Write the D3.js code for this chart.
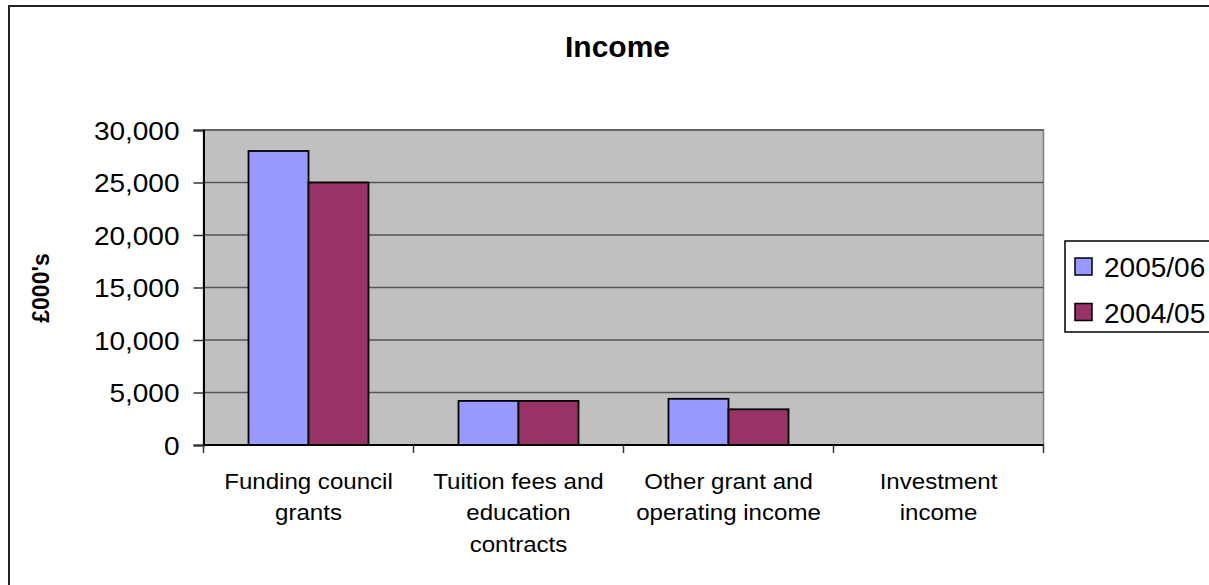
<!DOCTYPE html>
<html>
<head>
<meta charset="utf-8">
<script src="https://cdn.jsdelivr.net/npm/d3@7"></script>
<style>
  body { margin: 0; background: #fff; }
  text { font-family: "Liberation Sans", Arial, sans-serif; fill: #000; }
</style>
</head>
<body>
<svg id="chart" width="1209" height="585"></svg>
<script>
// data
var categories = ["Funding council grants", "Tuition fees and education contracts", "Other grant and operating income", "Investment income"];
var catLines   = [["Funding council", "grants"], ["Tuition fees and", "education", "contracts"], ["Other grant and", "operating income"], ["Investment", "income"]];
var series     = ["2005/06", "2004/05"];
var v200506    = [28000, 4200, 4400, 0];
var v200405    = [25000, 4200, 3400, 0];
var yTicks     = [0, 5000, 10000, 15000, 20000, 25000, 30000];
var colors     = ["#9999FF", "#993366"];

var rows = categories.map(function(c, i) {
	return {cat: c, lines: catLines[i], vals: [v200506[i], v200405[i]]};
});

var svg = d3.select("#chart"),
	plot = {left: 203.5, top: 130, right: 1043.5, bottom: 445};

// outer chart border (cut off on right/bottom like the source)
svg.append("rect").attr("x", 9).attr("y", 6).attr("width", 1215).attr("height", 600)
	.attr("fill", "#fff").attr("stroke", "#222").attr("stroke-width", 2);

var x0 = d3.scaleBand().domain(categories).range([plot.left, plot.right]).padding(0);
var x1 = d3.scaleBand().domain(series).range([0, x0.bandwidth()]).paddingOuter(0.75).paddingInner(0);
var y  = d3.scaleLinear().domain([0, 30000]).range([plot.bottom, plot.top]);

// plot background
svg.append("rect").attr("x", plot.left).attr("y", plot.top)
	.attr("width", plot.right - plot.left).attr("height", plot.bottom - plot.top)
	.attr("fill", "#C0C0C0").attr("stroke", "#808080").attr("stroke-width", 1.5);

// gridlines
svg.append("g").selectAll("line").data(yTicks.slice(1)).enter().append("line")
	.attr("x1", plot.left).attr("x2", plot.right)
	.attr("y1", function(d) { return y(d); }).attr("y2", function(d) { return y(d); })
	.attr("stroke", "#555").attr("stroke-width", 1.3);

// bars
var g = svg.append("g").selectAll("g.cat").data(rows).enter().append("g")
	.attr("class", "cat")
	.attr("transform", function(d) { return "translate(" + x0(d.cat) + ",0)"; });
g.selectAll("rect").data(function(d) { return d.vals.map(function(v, i) { return {s: series[i], v: v, i: i}; }); })
	.enter().filter(function(d) { return d.v > 0; }).append("rect")
	.attr("x", function(d) { return x1(d.s); })
	.attr("y", function(d) { return y(d.v); })
	.attr("width", x1.bandwidth())
	.attr("height", function(d) { return y(0) - y(d.v); })
	.attr("fill", function(d) { return colors[d.i]; })
	.attr("stroke", "#000").attr("stroke-width", 1.8);

// y axis
var yAxis = svg.append("g").attr("transform", "translate(" + plot.left + ",0)")
	.call(d3.axisLeft(y).tickValues(yTicks).tickSize(10).tickFormat(d3.format(",")));
yAxis.select(".domain").attr("stroke", "#000").attr("stroke-width", 2);
yAxis.selectAll(".tick line").attr("stroke", "#333").attr("stroke-width", 1.5);
yAxis.selectAll(".tick text")
	.attr("x", null).attr("dy", null)
	.attr("transform", "translate(-24,9) scale(1.12,1)")
	.style("font-size", "25px").attr("fill", "#000");

// x axis
svg.append("line").attr("x1", plot.left).attr("x2", plot.right)
	.attr("y1", plot.bottom).attr("y2", plot.bottom)
	.attr("stroke", "#000").attr("stroke-width", 2);
var bounds = categories.map(function(c) { return x0(c); }).concat([x0.range()[1]]);
svg.append("g").selectAll("line").data(bounds).enter().append("line")
	.attr("x1", function(d) { return d; }).attr("x2", function(d) { return d; })
	.attr("y1", plot.bottom).attr("y2", plot.bottom + 8)
	.attr("stroke", "#333").attr("stroke-width", 1.5);

// category labels
var lab = svg.append("g").selectAll("g.lab").data(rows).enter().append("g")
	.attr("transform", function(d) { return "translate(" + (x0(d.cat) + x0.bandwidth() / 2) + "," + (plot.bottom + 44) + ") scale(1.07,1)"; });
lab.selectAll("text").data(function(d) { return d.lines; }).enter().append("text")
	.attr("text-anchor", "middle")
	.attr("y", function(d, i) { return i * 31.5; })
	.style("font-size", "22.5px")
	.text(function(d) { return d; });

// title
svg.append("text").attr("x", 617.5).attr("y", 57).attr("text-anchor", "middle")
	.style("font-size", "30px").style("font-weight", "bold").text("Income");

// y axis title
svg.append("text").attr("transform", "translate(49,288) rotate(-90)")
	.attr("text-anchor", "middle")
	.style("font-size", "23px").style("font-weight", "bold").text("£000's");

// legend
var leg = svg.append("g");
leg.append("rect").attr("x", 1065).attr("y", 241).attr("width", 160).attr("height", 91)
	.attr("fill", "#fff").attr("stroke", "#000").attr("stroke-width", 1.5);
var li = leg.selectAll("g.li").data(series).enter().append("g")
	.attr("transform", function(d, i) { return "translate(1075," + (258 + i * 45.5) + ")"; });
li.append("rect").attr("width", 17).attr("height", 17)
	.attr("fill", function(d, i) { return colors[i]; })
	.attr("stroke", "#000").attr("stroke-width", 1.5);
li.append("text").attr("x", 29).attr("y", 19)
	.style("font-size", "28px").text(function(d) { return d; });
</script>
</body>
</html>
